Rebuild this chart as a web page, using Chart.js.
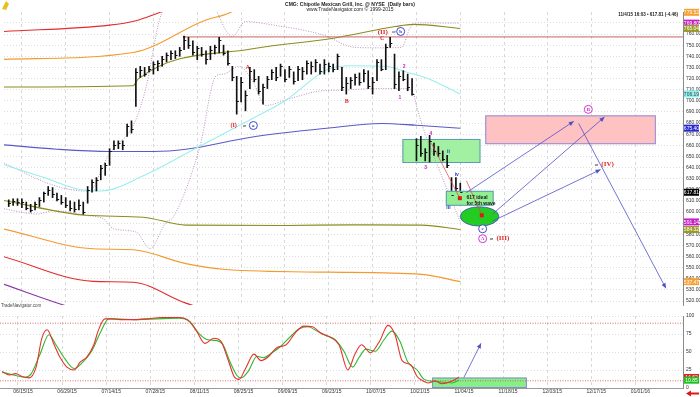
<!DOCTYPE html>
<html>
<head>
<meta charset="utf-8">
<title>CMG daily bars</title>
<script src="https://cdn.jsdelivr.net/npm/chart.js@4.4.1/dist/chart.umd.min.js"></script>
<style>
  html, body { margin: 0; padding: 0; background: #fff; }
  body { width: 700px; height: 397px; position: relative; overflow: hidden; }
  .pane { position: absolute; left: 0; width: 700px; }
  #pricePane { top: 0; height: 311px; }
  #stochPane { top: 310px; height: 87px; }
</style>
</head>
<body>
<div class="pane" id="pricePane"><canvas id="priceChart"></canvas></div>
<div class="pane" id="stochPane"><canvas id="stochChart"></canvas></div>
<script>
// x values are trading days, day 0 = 06/15/15
var firstBar = -3;
var xTickDays = [0, 10, 20, 30, 40, 50, 60, 70, 80, 90, 100, 110, 120, 130, 140];
var xTickLabels = ['06/15/15', '06/29/15', '07/14/15', '07/28/15', '08/11/15', '08/25/15', '09/09/15',
  '09/23/15', '10/07/15', '10/21/15', '11/04/15', '11/18/15', '12/03/15', '12/17/15', '01/01/16'];
var priceTicks = [770, 760, 750, 740, 730, 720, 710, 700, 690, 680, 670, 660, 650, 640, 630, 620,
  610, 600, 590, 580, 570, 560, 550, 540, 530, 520];
var stochTicks = [0, 25, 50, 75, 100];

var barHigh = [
  611, 612, 612, 612, 609, 607, 609, 613, 618, 623,
  622, 617, 615, 613, 610, 609, 611, 609, 623, 629,
  631, 642, 644, 657, 664, 664, 664, 679, 682, 729,
  731, 730, 731, 735, 736, 740, 743, 745, 745, 748,
  758, 757, 754, 749, 748, 745, 749, 750, 757, 750,
  745, 731, 722, 721, 709, 730, 728, 722, 715, 722,
  728, 730, 733, 728, 731, 726, 731, 730, 736, 735,
  737, 733, 737, 734, 733, 742, 730, 721, 721, 724,
  725, 728, 727, 721, 737, 737, 751, 757, 742, 726,
  727, 724, 720, 666, 668, 657, 669, 662, 659, 655,
  651, 631, 631, 626];
var barLow = [
  605, 606, 606, 604, 602, 600, 602, 605, 609, 615,
  613, 610, 607, 604, 601, 600, 602, 598, 608, 618,
  619, 629, 633, 642, 656, 657, 656, 668, 671, 695,
  721, 722, 726, 724, 727, 731, 735, 737, 738, 740,
  746, 747, 741, 737, 740, 733, 737, 742, 743, 741,
  732, 718, 688, 699, 691, 711, 717, 706, 697, 711,
  719, 718, 722, 717, 721, 715, 718, 719, 724, 724,
  726, 724, 724, 726, 726, 728, 709, 706, 711, 714,
  714, 717, 711, 706, 718, 727, 728, 748, 711, 709,
  718, 709, 705, 646, 650, 646, 645, 651, 650, 646,
  640, 608, 619, 616];
var barClose = [
  608, 610, 609, 609, 604, 602, 607, 611, 617, 620,
  616, 612, 609, 606, 604, 603, 606, 600, 620, 627,
  629, 640, 642, 655, 660, 662, 660, 677, 675, 726,
  728, 724, 729, 733, 734, 738, 741, 743, 741, 746,
  755, 750, 744, 747, 742, 738, 746, 748, 755, 743,
  734, 721, 700, 717, 705, 727, 720, 709, 712, 720,
  726, 721, 731, 720, 729, 718, 729, 727, 734, 731,
  735, 727, 733, 731, 729, 740, 712, 716, 719, 721,
  717, 725, 713, 717, 735, 729, 748, 752, 715, 722,
  720, 712, 706, 660, 653, 654, 664, 655, 653, 648,
  642, 615, 622, 617.81];

// [day, price] key points of the overlay lines
var redUpper = [[-4.1, 762.3], [20, 768], [26, 772], [30.5, 778], [40, 792]];
var orangeUpper = [[-4.1, 737.2], [25.4, 743.4], [42, 772.7], [46, 777], [52, 786], [75, 792], [100, 790]];
var oliveUpper = [[-4.1, 712.4], [25.4, 713.5], [26.5, 719.5], [52.6, 746.7], [70.7, 756], [85.2, 766.7], [89.2, 768.7], [100, 765.04]];
var cyanAvg = [[-4.1, 642.6], [5, 631], [14.7, 619.3], [18, 619], [27.7, 632.6], [39.7, 657.4], [52.6, 684],
  [60, 700], [69.8, 728.3], [75, 731.5], [83, 731], [88, 725.5], [92, 721], [100, 706.19]];
var blueAvg = [[-4.1, 660.4], [8, 656.5], [20, 654.5], [30, 654.5], [37.4, 656.5], [52.6, 667.5], [70, 675.5],
  [82, 679.6], [90, 678], [100, 675.4]];
var oliveLower = [[-4.1, 610.4], [14.7, 597.1], [27.7, 595.4], [37.4, 588.3], [60, 588], [75, 588.5], [91.2, 588.3], [100, 584.32]];
var orangeLower = [[-4.1, 584.7], [16.3, 567], [25.4, 566.1], [37.4, 553.7], [46.5, 548.4], [70, 546], [91.2, 544], [100, 537.47]];
var redLower = [[-4.1, 559.9], [16.3, 537.7], [25.4, 536.9], [37.4, 518.2], [45, 510], [60, 505]];
var purpleLower = [[-4.1, 535.1], [10.2, 515.6], [20, 505]];
var bandUpper = [[-4.1, 644], [7.3, 624], [14.4, 619], [16.3, 622], [18.6, 642.6], [20.9, 657.4], [24.3, 670.7],
  [26.1, 684], [28.4, 713.5], [31.4, 772.7], [33.3, 786], [38, 800], [43, 790], [48, 757.9], [51, 771.2],
  [57.1, 768.2], [68.5, 759.4], [76, 748], [81.3, 747.6], [86.6, 748], [88.5, 765], [90, 770], [100, 769.8]];
var bandLower = [[-4.1, 603], [3.4, 598.3], [7.3, 601.3], [14.7, 596.9], [18.6, 593.9], [20.9, 585], [26.1, 582],
  [29.2, 567.3], [32.9, 590.9], [34.5, 595.4], [40.5, 657.4], [44.3, 722.4], [46, 724], [49.5, 731], [52.6, 718],
  [55.6, 695.8], [60.9, 701.7], [68.5, 709], [72.6, 709.5], [80.4, 711], [87.3, 711], [89.2, 708], [89.9, 697],
  [91.5, 676], [95, 640], [100, 591.14]];

var topLine = 757.4;       // red line drawn from the July high
var topLineFrom = 37;
var targetMarks = [[99.9, 612.5], [104.9, 597.1]];

var priceTagValues = [779.52, 769.80, 765.04, 706.19, 675.40, 617.81, 591.14, 584.32, 537.47];

var stochK = [[-3.6, 23], [-2, 18], [-0.5, 20], [0.9, 16], [2.5, 14], [4.1, 29], [5.4, 69], [6.6, 81], [8.2, 60],
  [9.5, 43], [11.1, 29], [12.7, 25], [14.1, 36], [15.6, 43], [17.2, 60], [18.1, 78], [19.7, 96], [21.3, 96],
  [23.2, 95], [26.3, 95], [29.3, 96], [32.4, 98], [36.5, 98], [38.4, 95], [40.4, 80], [42.4, 62], [44.4, 69],
  [46, 65], [47.6, 40], [49, 16], [50.1, 12], [51.6, 27], [53.5, 47], [55.1, 38], [56.7, 43], [58.7, 56],
  [60.8, 60], [62.8, 76], [64.8, 86], [66.8, 85], [68.7, 76], [70.7, 71], [72.8, 60], [74.8, 25], [76.4, 47],
  [77.9, 60], [79.9, 49], [82, 65], [83.9, 87], [85.5, 74], [87.1, 38], [89.1, 32], [90.5, 16], [92.1, 9],
  [93, 7], [94.6, 10], [96.1, 6], [98.2, 9], [100, 15]];
var stochD = [[-3.6, 22], [-1, 18], [1.5, 15], [2.9, 19], [5, 47], [7, 74], [8.6, 60], [10.7, 40], [12.7, 27],
  [14.7, 36], [16.7, 51], [18.6, 76], [20.6, 96], [22.2, 96], [26.3, 95], [36.5, 97], [39, 92], [41, 76],
  [43.1, 67], [45, 66], [46.5, 60], [48.1, 36], [49.7, 17], [50.6, 14], [52.2, 23], [54.2, 44], [55.6, 42],
  [57.6, 49], [59.6, 58], [61.7, 71], [63.7, 82], [65.8, 85], [67.8, 79], [69.8, 73], [71.9, 67], [73.9, 51],
  [75.9, 29], [77.3, 42], [78.9, 54], [81, 51], [83, 67], [84.8, 79], [86.6, 65], [88.4, 36], [90.5, 25],
  [92.1, 12], [94.6, 9], [96.8, 8], [98.4, 7], [100, 11]];
var stochLevels = [90, 10];
var stochTagValues = [14.62, 10.85];

var xMin = -4.08, xMax = 150.8;
var SANS = "'Liberation Sans', Arial, sans-serif";
var SERIF = "'Liberation Serif', 'Times New Roman', serif";
var RED = '#e02626', MAG = '#cc22cc', BLUE = '#2a34cc';

function pts(list) {
  return list.map(function (p) { return { x: p[0], y: p[1] }; });
}

function overlay(list, color, dotted) {
  return {
    type: 'line', data: pts(list), borderColor: color, borderWidth: dotted ? 0.9 : 1.1,
    borderDash: dotted ? [1, 1.5] : [], pointRadius: 0, cubicInterpolationMode: 'monotone', order: 5
  };
}

function arrow(ctx, x1, y1, x2, y2, color) {
  var a = Math.atan2(y2 - y1, x2 - x1), L = 5, W = 2.2;
  ctx.strokeStyle = color;
  ctx.fillStyle = color;
  ctx.lineWidth = 0.8;
  ctx.beginPath();
  ctx.moveTo(x1, y1);
  ctx.lineTo(x2, y2);
  ctx.stroke();
  ctx.beginPath();
  ctx.moveTo(x2, y2);
  ctx.lineTo(x2 - L * Math.cos(a) + W * Math.sin(a), y2 - L * Math.sin(a) - W * Math.cos(a));
  ctx.lineTo(x2 - L * Math.cos(a) - W * Math.sin(a), y2 - L * Math.sin(a) + W * Math.cos(a));
  ctx.closePath();
  ctx.fill();
}

function zone(ctx, xs, ys, x0, x1, y0, y1, fill, stroke) {
  var l = xs.getPixelForValue(x0), r = xs.getPixelForValue(x1);
  var t = ys.getPixelForValue(y1), b = ys.getPixelForValue(y0);
  ctx.fillStyle = fill;
  ctx.fillRect(l, t, r - l, b - t);
  ctx.strokeStyle = stroke;
  ctx.lineWidth = 1;
  ctx.strokeRect(l + 0.5, t + 0.5, r - l - 1, b - t - 1);
}

function tagPlugin(values, colors) {
  return {
    id: 'tags',
    afterDraw: function (chart) {
      var ctx = chart.ctx, ys = chart.scales.y, left = chart.chartArea.right + 1;
      ctx.save();
      ctx.font = '5px ' + SANS;
      ctx.textAlign = 'center';
      ctx.textBaseline = 'middle';
      values.forEach(function (v, i) {
        var y = ys.getPixelForValue(v);
        ctx.fillStyle = colors[i][0];
        ctx.fillRect(left, y - 3.5, 15, 7);
        ctx.fillStyle = colors[i][1];
        ctx.fillText(v.toFixed(2), left + 7.5, y + 0.5);
      });
      ctx.restore();
    }
  };
}

var priceTagColors = [['#f5a030', '#fff'], ['#c81ec8', '#fff'], ['#9a9a28', '#fff'], ['#8ff0f0', '#444'],
  ['#2828d0', '#fff'], ['#000', '#fff'], ['#c81ec8', '#fff'], ['#9a9a28', '#fff'], ['#f5a030', '#fff']];

// bar close ticks
var closeTicks = {
  id: 'closeTicks',
  afterDatasetsDraw: function (chart) {
    var ctx = chart.ctx, xs = chart.scales.x, ys = chart.scales.y;
    ctx.save();
    ctx.strokeStyle = '#111';
    ctx.lineWidth = 1;
    ctx.beginPath();
    barClose.forEach(function (c, i) {
      var px = xs.getPixelForValue(firstBar + i), py = Math.round(ys.getPixelForValue(c)) + 0.5;
      ctx.moveTo(px, py);
      ctx.lineTo(px + 2.2, py);
    });
    ctx.stroke();
    ctx.restore();
  }
};

// hand drawn wave counts, zones and projections
var waveNotes = {
  id: 'waveNotes',
  beforeDatasetsDraw: function (chart) {
    var ctx = chart.ctx, xs = chart.scales.x, ys = chart.scales.y;
    ctx.save();
    zone(ctx, xs, ys, 86.8, 104.6, 644.1, 665.7, '#a2f0a2', '#5c9cb4');
    zone(ctx, xs, ys, 105.7, 144.6, 661.0, 686.9, '#ffc2c2', '#8c8cdc');
    ctx.restore();
  },
  afterDatasetsDraw: function (chart) {
    var ctx = chart.ctx, xs = chart.scales.x, ys = chart.scales.y;
    function X(v) { return xs.getPixelForValue(v); }
    function Y(v) { return ys.getPixelForValue(v); }
    ctx.save();
    zone(ctx, xs, ys, 96.7, 107.6, 605.7, 619.1, '#92ee92', '#5c9cb4');
    // ellipse
    var ex = X(104.4), ey = Y(596.1);
    ctx.beginPath();
    ctx.ellipse(ex, ey, X(104.4 + 4.4) - ex, Y(596.1 - 8.7) - ey, 0, 0, Math.PI * 2);
    ctx.fillStyle = '#22cc22';
    ctx.fill();
    ctx.strokeStyle = '#4a4ac8';
    ctx.lineWidth = 0.8;
    ctx.stroke();

    // projected paths
    ctx.strokeStyle = '#e04040';
    ctx.lineWidth = 0.7;
    ctx.beginPath();
    ctx.moveTo(X(93.4), Y(661.9)); ctx.lineTo(X(targetMarks[0][0]), Y(targetMarks[0][1]));
    ctx.moveTo(X(101.4), Y(628.2)); ctx.lineTo(X(targetMarks[1][0]), Y(targetMarks[1][1]));
    ctx.stroke();
    ctx.fillStyle = '#e01818';
    targetMarks.forEach(function (m) { ctx.fillRect(X(m[0]) - 2, Y(m[1]) - 2, 4, 4); });

    arrow(ctx, X(101.4), Y(617.5), X(125.9), Y(681.6), '#5050c8');
    arrow(ctx, X(107.4), Y(598.3), X(132.9), Y(685.5), '#5050c8');
    arrow(ctx, X(107.3), Y(591.8), X(132), Y(638.2), '#5050c8');
    arrow(ctx, X(127), Y(679.6), X(146.9), Y(531.5), '#5050c8');

    ctx.textAlign = 'center';
    ctx.textBaseline = 'middle';
    var notes = [
      ['A', 51.5, 730.1, RED, 'bold 6px ' + SERIF],
      ['(I)', 48.3, 677.8, RED, 'bold 6px ' + SERIF],
      ['or', 50.8, 677.8, '#111', '4px ' + SANS],
      ['B', 74.1, 699.1, RED, 'bold 6px ' + SERIF],
      ['C', 82.2, 756.2, RED, 'bold 6px ' + SERIF],
      ['(II)', 82.3, 761.6, RED, 'bold 7px ' + SERIF],
      ['or', 84.9, 762, '#111', '4px ' + SANS],
      ['2', 87.2, 731, MAG, 'bold 5px ' + SANS],
      ['1', 86.2, 703.3, MAG, 'bold 5px ' + SANS],
      ['4', 93.3, 670.9, MAG, 'bold 5px ' + SANS],
      ['3', 92.1, 640.3, MAG, 'bold 5px ' + SANS],
      ['ii', 97.3, 654.5, BLUE, 'bold 5px ' + SANS],
      ['iv', 99.2, 633.8, BLUE, 'bold 5px ' + SANS],
      ['iii', 97.3, 604.0, BLUE, 'bold 5px ' + SANS],
      ['or', 107.1, 576.1, '#111', '4px ' + SANS],
      ['(III)', 109.7, 576.1, RED, 'bold 7px ' + SERIF],
      ['or', 131.1, 642.6, '#111', '4px ' + SANS],
      ['(IV)', 133.6, 642.6, RED, 'bold 7px ' + SERIF]
    ];
    notes.forEach(function (n) {
      ctx.font = n[4];
      ctx.fillStyle = n[3];
      ctx.fillText(n[0], X(n[1]), Y(n[2]));
    });

    var circled = [['a', 52.8, 677.8, BLUE], ['b', 86.4, 762.3, BLUE], ['c', 105.1, 585, BLUE],
      ['A', 105.1, 576.1, MAG], ['B', 129.2, 692.3, MAG]];
    circled.forEach(function (c) {
      var cx = X(c[1]), cy = Y(c[2]);
      ctx.beginPath();
      ctx.arc(cx, cy, 4, 0, Math.PI * 2);
      ctx.fillStyle = '#fff';
      ctx.fill();
      ctx.strokeStyle = c[3];
      ctx.lineWidth = 0.9;
      ctx.stroke();
      ctx.font = 'bold 5px ' + SERIF;
      ctx.fillStyle = c[3];
      ctx.fillText(c[0], cx, cy + 0.3);
    });

    ctx.textAlign = 'left';
    ctx.font = 'bold 5px ' + SANS;
    ctx.fillStyle = '#1a1a1a';
    ctx.fillText('617 ideal', X(101.4), Y(613.1));
    ctx.fillText('for 5th wave', X(101.4), Y(607.8));
    ctx.restore();
  },
  afterDraw: function (chart) {
    var ctx = chart.ctx;
    ctx.save();
    ctx.fillStyle = '#222';
    ctx.textAlign = 'center';
    ctx.textBaseline = 'middle';
    ctx.font = 'bold 5px ' + SANS;
    ctx.fillText('CMG: Chipotle Mexican Grill, Inc. @ NYSE  (Daily bars)', 350, 4.5);
    ctx.font = '5px ' + SANS;
    ctx.fillText('www.TradeNavigator.com \u00a9 1999-2015', 350, 10);
    ctx.textAlign = 'right';
    ctx.font = 'bold 4.5px ' + SANS;
    ctx.fillText('11/4/15 16:03 \u2022 617.81 (-4.46)', 678, 14.5);
    ctx.textAlign = 'left';
    ctx.font = '4.5px ' + SANS;
    ctx.fillStyle = '#444';
    ctx.fillText('TradeNavigator.com', 1, 306);
    // little logo
    ctx.fillStyle = '#e8c020';
    ctx.beginPath();
    ctx.moveTo(2, 9); ctx.lineTo(6, 1); ctx.lineTo(9, 4); ctx.lineTo(6, 10); ctx.closePath();
    ctx.fill();
    ctx.restore();
  }
};

var priceBars = barHigh.map(function (h, i) { return { x: firstBar + i, y: [barLow[i], h] }; });

new Chart(document.getElementById('priceChart'), {
  type: 'bar',
  data: {
    datasets: [
      { type: 'bar', data: priceBars, backgroundColor: '#111', barThickness: 1, grouped: false, order: 0 },
      {
        type: 'line', data: [{ x: topLineFrom, y: topLine }, { x: xMax, y: topLine }],
        borderColor: '#c86464', borderWidth: 1, pointRadius: [1.6, 0], pointStyle: 'rect',
        pointBackgroundColor: '#e01818', pointBorderWidth: 0, order: 1
      },
      overlay(redUpper, '#e32b2b'),
      overlay(orangeUpper, '#f39a2e'),
      overlay(oliveUpper, '#8c8c1e'),
      overlay(cyanAvg, '#9aeeee'),
      overlay(blueAvg, '#5a5ac8'),
      overlay(oliveLower, '#8c8c1e'),
      overlay(orangeLower, '#f39a2e'),
      overlay(redLower, '#e32b2b'),
      overlay(purpleLower, '#8a35a5'),
      overlay(bandUpper, '#b884b8', true),
      overlay(bandLower, '#b884b8', true)
    ]
  },
  options: {
    responsive: true, maintainAspectRatio: false, animation: false, devicePixelRatio: 1,
    layout: { padding: { top: 12, left: 0, right: 0, bottom: 2 } },
    plugins: { legend: { display: false }, tooltip: { enabled: false } },
    scales: {
      x: {
        type: 'linear', min: xMin, max: xMax, offset: false,
        afterBuildTicks: function (ax) { ax.ticks = xTickDays.map(function (v) { return { value: v }; }); },
        ticks: { display: false },
        grid: { color: '#cfcfcf', drawTicks: false, offset: false, lineWidth: 0.8 },
        border: { display: false, dash: [3, 3] }
      },
      y: {
        position: 'right', min: 516.5, max: 779.8,
        afterBuildTicks: function (ax) { ax.ticks = priceTicks.map(function (v) { return { value: v }; }); },
        afterFit: function (ax) { ax.width = 17; },
        ticks: { font: { size: 5, family: SANS }, color: '#333', padding: 3,
          callback: function (v) { return Number(v).toFixed(2); } },
        grid: { color: '#d6d6d6', drawTicks: false, lineWidth: 0.8 },
        border: { display: true, color: '#8a8a8a', dash: [1, 2] }
      }
    }
  },
  plugins: [waveNotes, closeTicks, tagPlugin(priceTagValues, priceTagColors)]
});

var stochNotes = {
  id: 'stochNotes',
  beforeDatasetsDraw: function (chart) {
    var ctx = chart.ctx;
    ctx.save();
    zone(ctx, chart.scales.x, chart.scales.y, 93.9, 115.4, 0, 14.5, '#86f086', '#8a8ad0');
    ctx.restore();
  },
  afterDatasetsDraw: function (chart) {
    var ctx = chart.ctx, xs = chart.scales.x, ys = chart.scales.y;
    ctx.save();
    arrow(ctx, xs.getPixelForValue(101.1), ys.getPixelForValue(14.5),
      xs.getPixelForValue(105), ys.getPixelForValue(62), '#5050c8');
    ctx.restore();
  },
  afterDraw: function (chart) {
    var ctx = chart.ctx, r = chart.chartArea.right;
    ctx.save();
    ctx.fillStyle = '#e01818';
    ctx.beginPath();
    ctx.moveTo(r + 3, 83.5); ctx.lineTo(r + 8, 80.5); ctx.lineTo(r + 8, 82.5); ctx.lineTo(r + 16, 82.5);
    ctx.lineTo(r + 16, 84.5); ctx.lineTo(r + 8, 84.5); ctx.lineTo(r + 8, 86.5); ctx.closePath();
    ctx.fill();
    ctx.restore();
  }
};

new Chart(document.getElementById('stochChart'), {
  type: 'line',
  data: {
    datasets: [
      { data: pts(stochK), borderColor: '#e83030', borderWidth: 1.1, pointRadius: 0, cubicInterpolationMode: 'monotone', order: 0 },
      { data: pts(stochD), borderColor: '#2eb82e', borderWidth: 1.1, pointRadius: 0, cubicInterpolationMode: 'monotone', order: 1 },
      { data: [{ x: xMin, y: stochLevels[0] }, { x: xMax, y: stochLevels[0] }], borderColor: '#d04848', borderWidth: 0.8, borderDash: [1, 1.5], pointRadius: 0, order: 2 },
      { data: [{ x: xMin, y: stochLevels[1] }, { x: xMax, y: stochLevels[1] }], borderColor: '#d04848', borderWidth: 0.8, borderDash: [1, 1.5], pointRadius: 0, order: 2 }
    ]
  },
  options: {
    responsive: true, maintainAspectRatio: false, animation: false, devicePixelRatio: 1,
    layout: { padding: { top: 3, left: 0, right: 0, bottom: 1 } },
    plugins: { legend: { display: false }, tooltip: { enabled: false } },
    scales: {
      x: {
        type: 'linear', min: xMin, max: xMax,
        afterBuildTicks: function (ax) { ax.ticks = xTickDays.map(function (v) { return { value: v }; }); },
        ticks: { font: { size: 5, family: SANS }, color: '#333', padding: 1, maxRotation: 0, autoSkip: false,
          labelOffset: 5, callback: function (v, i) { return xTickLabels[i]; } },
        grid: { color: '#cfcfcf', drawTicks: false, lineWidth: 0.8 },
        border: { display: true, color: '#9a9a9a', dash: [3, 3] }
      },
      y: {
        position: 'right', min: 0, max: 100,
        afterBuildTicks: function (ax) { ax.ticks = stochTicks.map(function (v) { return { value: v }; }); },
        afterFit: function (ax) { ax.width = 17; },
        ticks: { font: { size: 5, family: SANS }, color: '#333', padding: 3 },
        grid: { color: '#d6d6d6', drawTicks: false, lineWidth: 0.8 },
        border: { display: true, color: '#8a8a8a', dash: [1, 2] }
      }
    }
  },
  plugins: [stochNotes, tagPlugin(stochTagValues, [['#e02020', '#fff'], ['#20c020', '#fff']])]
});
</script>
</body>
</html>
